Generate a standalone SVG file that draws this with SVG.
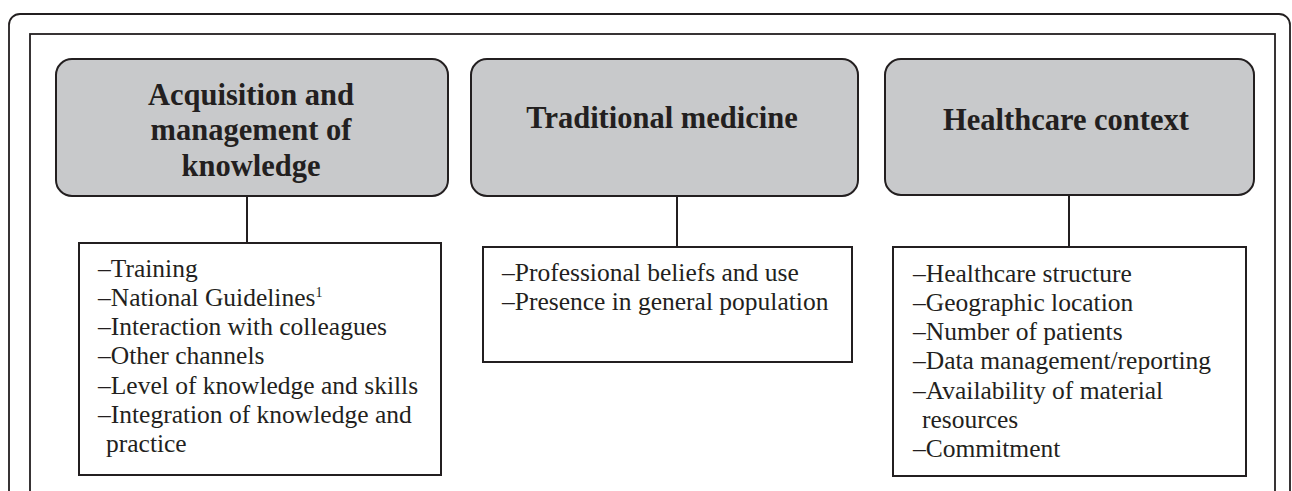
<svg xmlns="http://www.w3.org/2000/svg" width="1292" height="491" viewBox="0 0 1292 491">
<style>
.frame{fill:none;stroke:#231f20;stroke-width:1.8}
.head{fill:#c8c9cb;stroke:#231f20;stroke-width:2}
.list{fill:#fff;stroke:#231f20;stroke-width:2}
.conn{stroke:#231f20;stroke-width:2;fill:none}
.ht{font-family:'Liberation Serif','Times New Roman',Times,'DejaVu Serif',serif;font-weight:bold;font-size:30.5px;fill:#231f20;text-anchor:middle}
.lt{font-family:'Liberation Serif','Times New Roman',Times,'DejaVu Serif',serif;font-size:25.5px;fill:#231f20}
</style>
<rect width="1292" height="491" fill="#fff"/>
<g id="frame">
<rect class="frame" x="9" y="14" width="1281" height="500" rx="11"/>
<rect class="frame" x="30" y="34" width="1245" height="480"/>
</g>
<g id="connectors">
<line class="conn" x1="247" y1="196" x2="247" y2="243"/>
<line class="conn" x1="677" y1="196" x2="677" y2="247"/>
<line class="conn" x1="1069" y1="196" x2="1069" y2="247"/>
</g>
<g id="head-knowledge">
<rect class="head" x="56" y="59" width="392" height="137" rx="16"/>
<text class="ht" x="251" y="105">Acquisition and</text>
<text class="ht" x="251" y="140">management of</text>
<text class="ht" x="251" y="176">knowledge</text>
</g>
<g id="head-traditional">
<rect class="head" x="471" y="59" width="387" height="137" rx="16"/>
<text class="ht" x="662" y="128">Traditional medicine</text>
</g>
<g id="head-healthcare">
<rect class="head" x="885" y="59" width="369" height="136" rx="16"/>
<text class="ht" x="1066" y="130">Healthcare context</text>
</g>
<g id="list-knowledge">
<rect class="list" x="79" y="243" width="362" height="232"/>
<text class="lt" x="98" y="277">–Training</text>
<text class="lt" x="98" y="306">–National Guidelines<tspan font-size="14" dy="-9">1</tspan></text>
<text class="lt" x="98" y="335">–Interaction with colleagues</text>
<text class="lt" x="98" y="364">–Other channels</text>
<text class="lt" x="98" y="394">–Level of knowledge and skills</text>
<text class="lt" x="98" y="423">–Integration of knowledge and</text>
<text class="lt" x="106" y="452">practice</text>
</g>
<g id="list-traditional">
<rect class="list" x="483" y="247" width="369" height="115"/>
<text class="lt" x="502" y="281">–Professional beliefs and use</text>
<text class="lt" x="502" y="310">–Presence in general population</text>
</g>
<g id="list-healthcare">
<rect class="list" x="893" y="247" width="353" height="229"/>
<text class="lt" x="913" y="282">–Healthcare structure</text>
<text class="lt" x="913" y="311">–Geographic location</text>
<text class="lt" x="913" y="340">–Number of patients</text>
<text class="lt" x="913" y="369">–Data management/reporting</text>
<text class="lt" x="913" y="399">–Availability of material</text>
<text class="lt" x="922" y="428">resources</text>
<text class="lt" x="913" y="457">–Commitment</text>
</g>
</svg>
